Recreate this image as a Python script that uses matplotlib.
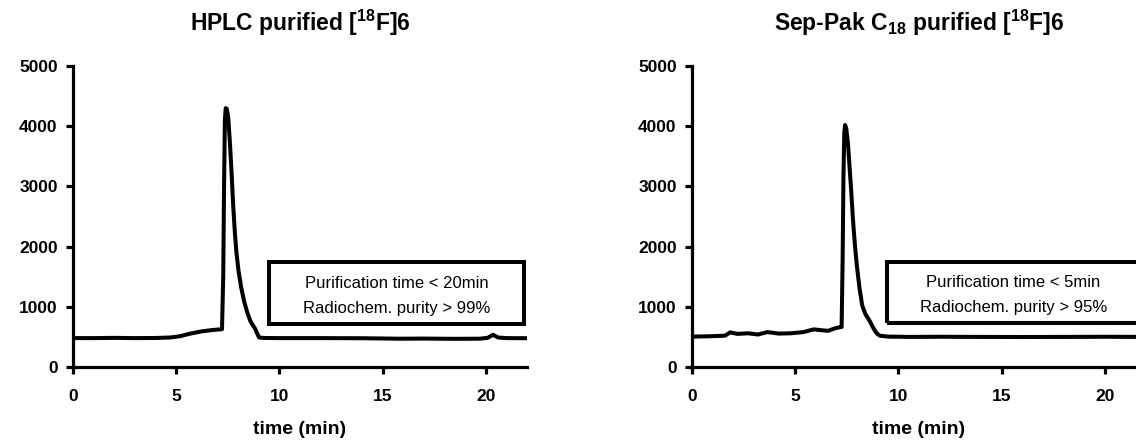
import numpy as np
import matplotlib
matplotlib.use("Agg")
import matplotlib.pyplot as plt
from matplotlib.patches import Rectangle

# ---------------------------------------------------------
# chromatogram traces (time in min, counts)
# ---------------------------------------------------------
hplc_t = [0.0, 1.0, 2.0, 3.0, 4.0, 4.7, 5.2, 5.7, 6.2, 6.7, 7.0, 7.22,
          7.28, 7.32, 7.36, 7.40, 7.45, 7.52, 7.60, 7.68, 7.76, 7.84, 7.92,
          8.02, 8.15, 8.30, 8.45, 8.60, 8.72, 8.82, 8.92, 9.02, 9.3, 10.0,
          12.0, 14.0, 15.8, 17.0, 18.5, 19.7, 20.1, 20.35, 20.6, 21.0, 22.0]
hplc_y = [480, 480, 484, 480, 482, 490, 512, 556, 590, 612, 622, 628,
          1500, 3000, 4100, 4300, 4290, 4150, 3750, 3250, 2700, 2250, 1900,
          1600, 1320, 1080, 900, 760, 690, 640, 560, 490, 482, 480,
          480, 478, 470, 472, 468, 470, 485, 535, 490, 480, 478]

seppak_t = [0.0, 0.8, 1.6, 1.85, 2.2, 2.7, 3.2, 3.65, 4.2, 4.8, 5.4, 5.9,
            6.3, 6.6, 6.9, 7.15, 7.25, 7.30, 7.34, 7.38, 7.42, 7.48, 7.56,
            7.64, 7.72, 7.80, 7.90, 8.00, 8.12, 8.25, 8.40, 8.55, 8.68, 8.80,
            8.95, 9.10, 9.5, 10.5, 12.0, 14.0, 16.0, 18.0, 20.0, 22.0]
seppak_y = [505, 510, 520, 575, 550, 560, 540, 580, 555, 560, 580, 625,
            610, 600, 640, 660, 665, 1800, 3200, 3900, 4020, 3950, 3700,
            3300, 2900, 2450, 2000, 1650, 1300, 1020, 880, 800, 720, 640,
            560, 520, 505, 500, 502, 500, 498, 500, 502, 500]

titles = [r"HPLC purified [$^{18}$F]6", r"Sep-Pak C$_{18}$ purified [$^{18}$F]6"]
box_lines = [["Purification time < 20min", "Radiochem. purity > 99%"],
             ["Purification time < 5min", "Radiochem. purity > 95%"]]
x_ticks = [0, 5, 10, 15, 20]
y_ticks = [0, 1000, 2000, 3000, 4000, 5000]

plt.rcParams["font.family"] = "Liberation Sans"
plt.rcParams["mathtext.fontset"] = "custom"
plt.rcParams["mathtext.rm"] = "Liberation Sans:bold"
plt.rcParams["mathtext.it"] = "Liberation Sans:bold"
plt.rcParams["mathtext.bf"] = "Liberation Sans:bold"

W, H = 1136, 440
fig = plt.figure(figsize=(W / 100, H / 100), dpi=100)

# panel placement in pixels: (left edge of y-axis, width)
panels = [(73, 454), (692, 454)]
traces = [(hplc_t, hplc_y), (seppak_t, seppak_y)]
boxes = [(9.49, 713, 21.86, 1742), (9.46, 728, 21.70, 1751)]
text_y = [(1390, 980), (1405, 985)]

for i, (x0, w) in enumerate(panels):
    ax = fig.add_axes([x0 / W, (H - 367) / H, w / W, 301 / H])
    t, y = traces[i]
    ax.plot(t, y, color="black", lw=2.9, solid_joinstyle="round")

    ax.set_xlim(0, 22)
    ax.set_ylim(0, 5000)
    ax.set_xticks(x_ticks)
    ax.set_yticks(y_ticks)
    for s in ["top", "right"]:
        ax.spines[s].set_visible(False)
    for s in ["left", "bottom"]:
        ax.spines[s].set_linewidth(2.3)
    ax.tick_params(direction="out", length=5, width=2.3, labelsize=12.5)
    ax.tick_params(axis="x", pad=11)
    ax.tick_params(axis="y", pad=6)
    for lab in ax.get_xticklabels() + ax.get_yticklabels():
        lab.set_fontweight("bold")
    ax.set_xlabel("time (min)", fontsize=14, fontweight="bold", labelpad=12)

    # result box
    bx0, by0, bx1, by1 = boxes[i]
    ax.add_patch(Rectangle((bx0, by0), bx1 - bx0, by1 - by0, fill=False,
                           lw=2.9, edgecolor="black", clip_on=False))
    cx = (bx0 + bx1) / 2
    for line, yy in zip(box_lines[i], text_y[i]):
        ax.text(cx, yy, line, ha="center", va="center", fontsize=12)

    fig.text((x0 + w / 2) / W, 1 - 23 / H, titles[i], ha="center",
             va="center", fontsize=16.5, fontweight="bold")

fig.savefig("out.png", dpi=100)
